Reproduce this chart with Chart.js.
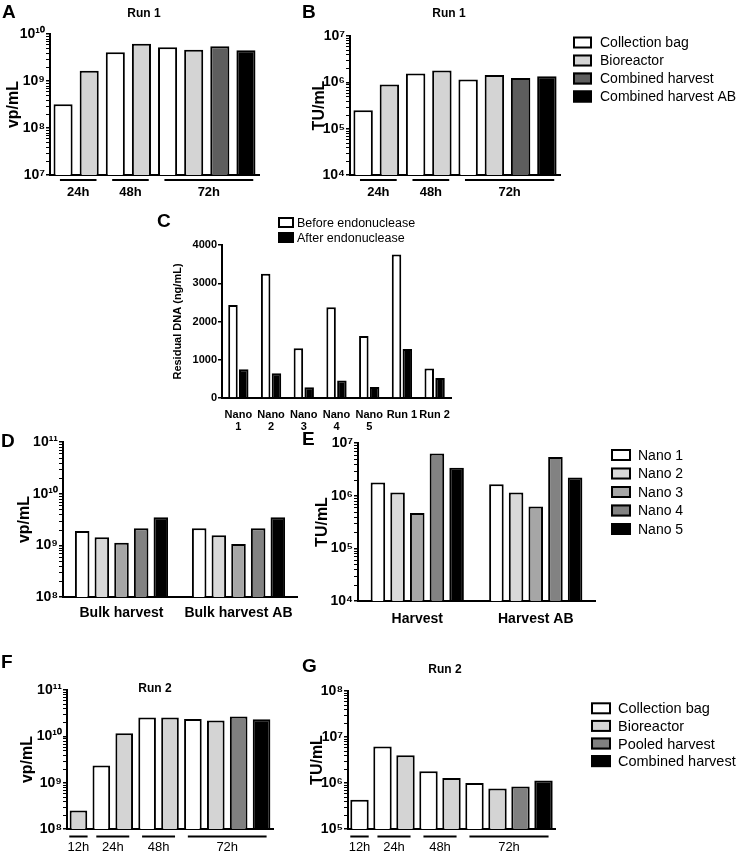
<!DOCTYPE html>
<html><head><meta charset="utf-8">
<script src="https://cdn.jsdelivr.net/npm/chart.js@4.4.1/dist/chart.umd.min.js"></script>
<style>
html,body{margin:0;padding:0;background:#fff;}
#fig{position:relative;width:744px;height:852px;overflow:hidden;background:#fff;}
canvas{position:absolute;}
</style></head><body><div id="fig"></div>
<script>
// ---------------- DATA ----------------
// Run 1 (panels A, B)
const run1Sources = ['Collection bag','Bioreactor','Combined harvest','Combined harvest AB'];
const run1Times   = ['24h','24h','48h','48h','72h','72h','72h','72h'];
const run1BarSrc  = ['Collection bag','Bioreactor','Collection bag','Bioreactor','Collection bag','Bioreactor','Combined harvest','Combined harvest AB'];
const aValues = [3.2e8, 1.66e9, 4.1e9, 6.2e9, 5.2e9, 4.6e9, 5.5e9, 4.5e9];      // vp/mL
const bValues = [2.5e5, 9.0e5, 1.55e6, 1.8e6, 1.15e6, 1.44e6, 1.24e6, 1.35e6];    // TU/mL
const aTickVals = [1e7, 1e8, 1e9, 1e10];
const aTickLabels = ['10\u2077','10\u2078','10\u2079','10\u00b9\u2070'];
const bTickVals = [1e4, 1e5, 1e6, 1e7];
const bTickLabels = ['10\u2074','10\u2075','10\u2076','10\u2077'];

// Panel C
const cCategories = [['Nano','1'],['Nano','2'],['Nano','3'],['Nano','4'],['Nano','5'],'Run 1','Run 2'];
const cBefore = [2430, 3250, 1300, 2370, 1620, 3750, 770];
const cAfter  = [750, 650, 280, 460, 290, 1280, 520];
const cTickVals = [0, 1000, 2000, 3000, 4000];
const cTickLabels = ['0','1000','2000','3000','4000'];

// Panels D, E
const nanoNames = ['Nano 1','Nano 2','Nano 3','Nano 4','Nano 5'];
const dCategories = ['Bulk harvest','Bulk harvest AB'];
const dNano1 = [1.89e9, 2.13e9];
const dNano2 = [1.43e9, 1.56e9];
const dNano3 = [1.12e9, 1.06e9];
const dNano4 = [2.13e9, 2.13e9];
const dNano5 = [3.5e9, 3.5e9];
const dTickVals = [1e8, 1e9, 1e10, 1e11];
const dTickLabels = ['10\u2078','10\u2079','10\u00b9\u2070','10\u00b9\u00b9'];
const eCategories = ['Harvest','Harvest AB'];
const eNano1 = [1.78e6, 1.65e6];
const eNano2 = [1.15e6, 1.15e6];
const eNano3 = [4.7e5, 6.2e5];
const eNano4 = [6.3e6, 5.45e6];
const eNano5 = [3.38e6, 2.22e6];
const eTickVals = [1e4, 1e5, 1e6, 1e7];
const eTickLabels = ['10\u2074','10\u2075','10\u2076','10\u2077'];

// Run 2 (panels F, G)
const run2Sources = ['Collection bag','Bioreactor','Pooled harvest','Combined harvest'];
const run2Times   = ['12h','24h','24h','48h','48h','72h','72h','72h','72h'];
const fBarSrc = ['Bioreactor','Collection bag','Bioreactor','Collection bag','Bioreactor','Collection bag','Bioreactor','Pooled harvest','Combined harvest'];
const fValues = [2.5e8, 2.35e9, 1.17e10, 2.54e10, 2.54e10, 2.38e10, 2.19e10, 2.67e10, 2.35e10];
const gBarSrc = ['Collection bag','Collection bag','Bioreactor','Collection bag','Bioreactor','Collection bag','Bioreactor','Pooled harvest','Combined harvest'];
const gValues = [4.3e5, 6.25e6, 4.0e6, 1.79e6, 1.28e6, 1.0e6, 7.6e5, 8.4e5, 1.14e6];
const fTickVals = [1e8, 1e9, 1e10, 1e11];
const fTickLabels = ['10\u2078','10\u2079','10\u00b9\u2070','10\u00b9\u00b9'];
const gTickVals = [1e5, 1e6, 1e7, 1e8];
const gTickLabels = ['10\u2075','10\u2076','10\u2077','10\u2078'];

// ---------------- STYLE ----------------
const FONT = "'Liberation Sans', Arial, Helvetica, sans-serif";
Chart.defaults.font.family = FONT;
Chart.defaults.color = '#000';
const run1Colors = {'Collection bag':'#ffffff','Bioreactor':'#d4d4d4','Combined harvest':'#5e5e5e','Combined harvest AB':'#000000'};
const run2Colors = {'Collection bag':'#ffffff','Bioreactor':'#d4d4d4','Pooled harvest':'#808080','Combined harvest':'#000000'};
const nanoColors = ['#ffffff','#d9d9d9','#a6a6a6','#828282','#000000'];

// ---------------- DECORATION PLUGIN ----------------
const deco = {
  id: 'deco',
  afterDraw(chart, args, o) {
    const ctx = chart.ctx, ox = o.ox, oy = o.oy;
    ctx.save();
    const y = chart.scales.y, x = chart.scales.x;
    // minor log ticks
    if (y.type === 'logarithmic') {
      const x0 = y.right - 1;
      ctx.strokeStyle = '#000'; ctx.lineWidth = 1;
      const e0 = Math.round(Math.log10(y.min)), e1 = Math.round(Math.log10(y.max));
      for (let e = e0; e < e1; e++) for (let k = 2; k <= 9; k++) {
        const py = Math.round(y.getPixelForValue(k * Math.pow(10, e))) + 0.5;
        ctx.beginPath(); ctx.moveTo(x0 - 3, py); ctx.lineTo(x0, py); ctx.stroke();
      }
    }
    ctx.fillStyle = '#000';
    if (o.letter) {
      ctx.font = 'bold 19px ' + FONT; ctx.textAlign = 'left'; ctx.textBaseline = 'alphabetic';
      ctx.fillText(o.letter[0], o.letter[1] - ox, o.letter[2] - oy);
    }
    if (o.title) {
      ctx.font = 'bold 12px ' + FONT; ctx.textAlign = 'center'; ctx.textBaseline = 'alphabetic';
      ctx.fillText(o.title[0], o.title[1] - ox, o.title[2] - oy);
    }
    if (o.groups) {
      const g = o.groups, t = g.times;
      const cw = x.getPixelForValue(1) - x.getPixelForValue(0);
      let i0 = 0;
      ctx.font = g.font; ctx.textAlign = 'center'; ctx.textBaseline = 'alphabetic';
      ctx.strokeStyle = '#000'; ctx.lineWidth = 2;
      for (let i = 1; i <= t.length; i++) {
        if (i === t.length || t[i] !== t[i0]) {
          const single = (i - 1 === i0);
          const sl = single ? g.single : g.sl, sr = single ? g.single : g.sr;
          const xa = x.getPixelForValue(i0) - sl * cw, xb = x.getPixelForValue(i - 1) + sr * cw;
          ctx.beginPath(); ctx.moveTo(xa, g.ly - oy); ctx.lineTo(xb, g.ly - oy); ctx.stroke();
          ctx.fillText(t[i0], (xa + xb) / 2, g.ty - oy);
          i0 = i;
        }
      }
    }
    if (o.legend) {
      const L = o.legend;
      ctx.font = L.font; ctx.textAlign = 'left'; ctx.textBaseline = 'middle';
      chart.data.datasets.forEach((ds, i) => {
        const cy = L.y + i * L.step - oy;
        const bx = L.x - ox;
        ctx.fillStyle = ds.backgroundColor;
        ctx.fillRect(bx, cy - L.h / 2, L.w, L.h);
        ctx.strokeStyle = '#000'; ctx.lineWidth = 2;
        ctx.strokeRect(bx + 1, cy - L.h / 2 + 1, L.w - 2, L.h - 2);
        ctx.fillStyle = '#000';
        ctx.fillText(ds.label, L.tx - ox, cy + 1);
      });
    }
    ctx.restore();
  }
};
Chart.register(deco);

// ---------------- BUILDERS ----------------
function runDatasets(sources, barSrc, values, colors, barPct) {
  return sources.map(s => ({
    label: s,
    data: values.map((v, i) => barSrc[i] === s ? v : null),
    backgroundColor: colors[s], borderColor: '#000', borderWidth: 2,
    grouped: false, barPercentage: barPct, categoryPercentage: 1
  }));
}
function groupDatasets(names, series, colors, catPct, barPct) {
  return names.map((n, i) => ({
    label: n, data: series[i], backgroundColor: colors[i], borderColor: '#000', borderWidth: 2,
    barPercentage: barPct, categoryPercentage: catPct
  }));
}

function makePanel(p) {
  const [left, top, w, h] = p.box;
  const [L, R, T, B] = p.area;
  const cv = document.createElement('canvas');
  cv.width = w; cv.height = h;
  cv.style.left = left + 'px'; cv.style.top = top + 'px';
  cv.style.width = w + 'px'; cv.style.height = h + 'px';
  document.getElementById('fig').appendChild(cv);
  const decoOpts = Object.assign({ox: left, oy: top}, p.deco);
  const xH = top + h - B;
  return new Chart(cv, {
    type: 'bar',
    data: {labels: p.labels, datasets: p.datasets},
    options: {
      responsive: false, animation: false, events: [], devicePixelRatio: 1,
      layout: {padding: {left: 0, top: T - top, right: left + w - R, bottom: 0}},
      plugins: {legend: {display: false}, tooltip: {enabled: false}, title: {display: false}, deco: decoOpts},
      scales: {
        x: {
          type: 'category', offset: true,
          grid: {display: false},
          border: {display: true, color: '#000', width: 2},
          ticks: {display: !!p.xFont, font: p.xFont, padding: p.xPad || 0, color: '#000', maxRotation: 0, autoSkip: false},
          afterFit: s => { s.height = xH; }
        },
        y: {
          type: p.yType || 'logarithmic', min: p.tickVals[0], max: p.tickVals[p.tickVals.length - 1],
          grid: {display: true, drawOnChartArea: false, drawTicks: true, tickLength: 4, color: '#000', lineWidth: 1.5},
          border: {display: true, color: '#000', width: 2},
          ticks: {font: p.tickFont, padding: 1, color: '#000', autoSkip: false,
                  callback: (v, i) => p.tickLabels[i]},
          afterBuildTicks: s => { s.ticks = p.tickVals.map(v => ({value: v})); },
          title: {display: true, text: p.yTitle, font: p.yTitleFont, color: '#000', padding: {top: p.yTitlePad, bottom: 0}},
          afterFit: s => { s.width = L - left; }
        }
      }
    }
  });
}

const tickFontLog = {size: 14, weight: 'bold'};
const yTitleFont = {size: 16, weight: 'bold'};
const run1Labels = run1Times.map((t, i) => t + ' ' + run1BarSrc[i]);

// Panel A
makePanel({
  box: [0, 0, 290, 200], area: [50, 259, 34, 175],
  labels: run1Labels,
  datasets: runDatasets(run1Sources, run1BarSrc, aValues, run1Colors, 0.73),
  tickVals: aTickVals, tickLabels: aTickLabels, tickFont: tickFontLog,
  yTitle: 'vp/mL', yTitleFont: yTitleFont, yTitlePad: 4.4,
  deco: {letter: ['A', 2, 18], title: ['Run 1', 144, 17],
         groups: {times: run1Times, ly: 180, ty: 196, sl: 0.12, sr: 0.28, single: 0.4, font: 'bold 13px ' + FONT}}
});
// Panel B
makePanel({
  box: [290, 0, 454, 200], area: [350, 560, 36, 175],
  labels: run1Labels,
  datasets: runDatasets(run1Sources, run1BarSrc, bValues, run1Colors, 0.74),
  tickVals: bTickVals, tickLabels: bTickLabels, tickFont: tickFontLog,
  yTitle: 'TU/mL', yTitleFont: yTitleFont, yTitlePad: 20.4,
  deco: {letter: ['B', 302, 18], title: ['Run 1', 449, 17],
         groups: {times: run1Times, ly: 180, ty: 196, sl: 0.12, sr: 0.28, single: 0.4, font: 'bold 13px ' + FONT},
         legend: {x: 573, w: 19, h: 12, y: 42.5, step: 18, tx: 600, font: '14px ' + FONT}}
});
// Panel C
makePanel({
  box: [150, 200, 310, 230], area: [222, 451, 245, 398],
  labels: cCategories, yType: 'linear',
  datasets: groupDatasets(['Before endonuclease', 'After endonuclease'], [cBefore, cAfter], ['#ffffff', '#000000'], 0.66, 0.88),
  tickVals: cTickVals, tickLabels: cTickLabels, tickFont: {size: 11, weight: 'bold'},
  yTitle: 'Residual DNA (ng/mL)', yTitleFont: {size: 11, weight: 'bold'}, yTitlePad: 21.4,
  xFont: {size: 11, weight: 'bold', lineHeight: 1.1}, xPad: 3,
  deco: {letter: ['C', 157, 227],
         legend: {x: 278, w: 16, h: 11, y: 222.5, step: 15, tx: 297, font: '12.5px ' + FONT}}
});
// Panel D
makePanel({
  box: [0, 425, 300, 195], area: [63, 297, 442, 597],
  labels: dCategories,
  datasets: groupDatasets(nanoNames, [dNano1, dNano2, dNano3, dNano4, dNano5], nanoColors, 0.84, 0.74),
  tickVals: dTickVals, tickLabels: dTickLabels, tickFont: tickFontLog,
  yTitle: 'vp/mL', yTitleFont: yTitleFont, yTitlePad: 15.4,
  xFont: {size: 14, weight: 'bold'}, xPad: 0,
  deco: {letter: ['D', 1, 447]}
});
// Panel E
makePanel({
  box: [300, 425, 444, 200], area: [358, 595, 443, 601],
  labels: eCategories,
  datasets: groupDatasets(nanoNames, [eNano1, eNano2, eNano3, eNano4, eNano5], nanoColors, 0.83, 0.74),
  tickVals: eTickVals, tickLabels: eTickLabels, tickFont: tickFontLog,
  yTitle: 'TU/mL', yTitleFont: yTitleFont, yTitlePad: 13.4,
  xFont: {size: 14, weight: 'bold'}, xPad: 2,
  deco: {letter: ['E', 302, 445],
         legend: {x: 611, w: 20, h: 12, y: 455, step: 18.5, tx: 638, font: '14px ' + FONT}}
});
// Panel F
makePanel({
  box: [0, 650, 300, 202], area: [67, 273, 690, 829],
  labels: run2Times.map((t, i) => t + ' ' + fBarSrc[i]),
  datasets: runDatasets(run2Sources, fBarSrc, fValues, run2Colors, 0.77),
  tickVals: fTickVals, tickLabels: fTickLabels, tickFont: tickFontLog,
  yTitle: 'vp/mL', yTitleFont: yTitleFont, yTitlePad: 18.4,
  deco: {letter: ['F', 1, 668], title: ['Run 2', 155, 692],
         groups: {times: run2Times, ly: 836.5, ty: 851, sl: 0.22, sr: 0.22, single: 0.4, font: '13px ' + FONT}}
});
// Panel G
makePanel({
  box: [300, 650, 444, 202], area: [348, 555, 691, 829],
  labels: run2Times.map((t, i) => t + ' ' + gBarSrc[i]),
  datasets: runDatasets(run2Sources, gBarSrc, gValues, run2Colors, 0.8),
  tickVals: gTickVals, tickLabels: gTickLabels, tickFont: tickFontLog,
  yTitle: 'TU/mL', yTitleFont: yTitleFont, yTitlePad: 8.4,
  deco: {letter: ['G', 302, 672], title: ['Run 2', 445, 673],
         groups: {times: run2Times, ly: 836.5, ty: 851, sl: 0.22, sr: 0.22, single: 0.4, font: '13px ' + FONT},
         legend: {x: 591, w: 20, h: 12, y: 708.3, step: 17.6, tx: 618, font: '14.5px ' + FONT}}
});
</script>
</body></html>
